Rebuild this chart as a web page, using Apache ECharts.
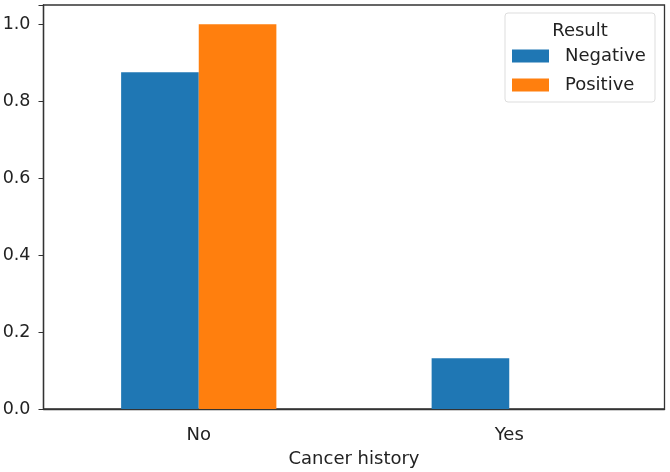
<!DOCTYPE html>
<html>
<head>
<meta charset="utf-8">
<script src="https://cdn.jsdelivr.net/npm/echarts@6/dist/echarts.min.js"></script>
<style>html,body{margin:0;padding:0;background:#fff}#c{width:670px;height:472px}</style>
</head>
<body>
<div id="c"></div>
<script>
const categories = ['No', 'Yes'];
const negative = [0.875, 0.132];
const positive = [1.0, 0.0];
const seriesNames = ['Negative', 'Positive'];
const yTicks = [0, 0.2, 0.4, 0.6, 0.8, 1.0];

const chart = echarts.init(document.getElementById('c'));
const font = 'DejaVu Sans';
chart.setOption({
  animation: false,
  backgroundColor: '#fff',
  grid: {left: 43.5, right: 5.5, top: 5, bottom: 63, show: true, borderColor: '#333', borderWidth: 1.3, containLabel: false, outerBoundsMode: 'none'},
  xAxis: {
    type: 'category', data: categories,
    axisLine: {lineStyle: {color: '#333', width: 1.3}},
    axisTick: {alignWithLabel: true, length: 5, lineStyle: {color: '#333'}},
    axisLabel: {fontFamily: font, fontSize: 18, color: '#222', margin: 17},
    name: 'Cancer history', nameLocation: 'middle', nameGap: 41,
    nameTextStyle: {fontFamily: font, fontSize: 18, color: '#222'}
  },
  yAxis: {
    type: 'value', min: 0, max: 1.05, interval: 0.2,
    splitLine: {show: false},
    axisLine: {show: true, lineStyle: {color: '#333', width: 1.3}},
    axisTick: {show: true, length: 5, lineStyle: {color: '#333'}},
    axisLabel: {fontFamily: font, fontSize: 17.5, color: '#222', margin: 13,
      formatter: v => yTicks.some(t => Math.abs(t - v) < 1e-9) ? v.toFixed(1) : ''},
  },
  legend: {
    orient: 'vertical', left: 512, top: 47, itemWidth: 37, itemHeight: 13, itemGap: 11,
    icon: 'rect', data: seriesNames,
    textStyle: {fontFamily: font, fontSize: 18, lineHeight: 18, color: '#222', padding: [0, 0, 0, 11]},
    padding: 0
  },
  graphic: [
    {type: 'rect', shape: {x: 505, y: 13, width: 150, height: 89, r: 3}, style: {fill: '#fff', stroke: '#ddd', lineWidth: 1}, z: 0, silent: true},
    {type: 'text', x: 580, y: 31, style: {text: 'Result', font: '18px "DejaVu Sans"', fill: '#222', textAlign: 'center', textVerticalAlign: 'middle'}, z: 1}
  ],
  series: [
    {name: seriesNames[0], type: 'bar', data: negative, barWidth: '25%', barGap: '0%', itemStyle: {color: '#1f77b4'}},
    {name: seriesNames[1], type: 'bar', data: positive, barWidth: '25%', barGap: '0%', itemStyle: {color: '#ff7f0e'}}
  ]
});
</script>
</body>
</html>
